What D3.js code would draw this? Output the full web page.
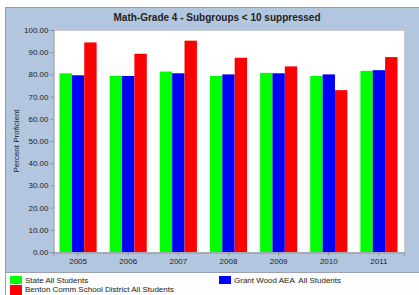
<!DOCTYPE html>
<html><head><meta charset="utf-8">
<script src="https://cdn.jsdelivr.net/npm/d3@7"></script>
<style>body{margin:0;background:#fff}svg{display:block}text{font-family:Arial,"Liberation Sans",sans-serif;white-space:pre}</style>
</head><body>
<script>
const years = ["2005","2006","2007","2008","2009","2010","2011"];
const seriesNames = ["State All Students","Grant Wood AEA  All Students","Benton Comm School District All Students"];
const seriesColors = ["#00FF00","#0000FF","#FF0000"];
const stateVals = [80.5, 79.3, 81.3, 79.3, 80.7, 79.3, 81.6];
const aeaVals = [79.6, 79.3, 80.5, 80.0, 80.5, 80.0, 81.9];
const bentonVals = [94.4, 89.3, 95.2, 87.5, 83.6, 72.9, 87.8];
const yTicks = [0,10,20,30,40,50,60,70,80,90,100];
const title = "Math-Grade 4 - Subgroups < 10 suppressed";

const W = 419, H = 295;
const svg = d3.select("body").append("svg").attr("width", W).attr("height", H);
svg.append("rect").attr("x",5.5).attr("y",7.5).attr("width",W).attr("height",265)
  .attr("fill","#B3C6DF").attr("stroke","#8c9bb0");
svg.append("rect").attr("x",5.5).attr("y",272.5).attr("width",W).attr("height",30)
  .attr("fill","#fdfdfd").attr("stroke","#9aa3ad");

const m = {l:53, t:30, r:404, b:252};
const x = d3.scaleBand().domain(years).range([m.l, m.r]).paddingInner(0.26).paddingOuter(0.13);
const xs = d3.scaleBand().domain([0,1,2]).range([0, x.bandwidth()]);
const y = d3.scaleLinear().domain([0,100]).range([m.b, m.t]);

svg.append("rect").attr("x",m.l+0.5).attr("y",m.t+0.5).attr("width",m.r-m.l).attr("height",m.b-m.t)
  .attr("fill","#fff").attr("stroke","#c8ccd2");

const data = [stateVals, aeaVals, bentonVals];
years.forEach((yr,i)=>{
  const g = svg.append("g").attr("transform",`translate(${x(yr)},0)`);
  data.forEach((s,j)=>{
    g.append("rect").attr("x",xs(j)).attr("width",xs.bandwidth())
      .attr("y",y(s[i])).attr("height",y(0)-y(s[i])).attr("fill",seriesColors[j]);
  });
});

const yAxis = d3.axisLeft(y).tickValues(yTicks).tickFormat(d3.format(".2f")).tickSize(3).tickPadding(2);
const ya = svg.append("g").attr("transform",`translate(${m.l+0.5},0)`).call(yAxis);
const xAxis = d3.axisBottom(x).tickSize(3).tickPadding(3);
const xa = svg.append("g").attr("transform",`translate(0,${m.b+0.5})`).call(xAxis);
[ya,xa].forEach(a=>{
  a.selectAll("path").attr("stroke","#8a8f96");
  a.selectAll("line").attr("stroke","#8a8f96");
  a.selectAll("text").attr("font-size",8).attr("fill","#222").attr("font-family","Arial,'Liberation Sans',sans-serif");
});

svg.append("text").attr("x",217).attr("y",21).attr("text-anchor","middle")
  .attr("font-size",10).attr("font-weight","bold").attr("fill","#222").text(title);
svg.append("text").attr("transform","translate(19,141) rotate(-90)").attr("text-anchor","middle")
  .attr("font-size",8).attr("fill","#222").text("Percent Proficient");

const legendPos = [[10,276],[219,276],[10,285]];
seriesNames.forEach((n,j)=>{
  const [lx,ly] = legendPos[j];
  svg.append("rect").attr("x",lx).attr("y",ly).attr("width",12).attr("height",j===2?10:8).attr("fill",seriesColors[j]);
  svg.append("text").attr("x",lx+15).attr("y",ly+ (j===2?7:6.5)).attr("font-size",8).attr("fill","#222").text(n);
});
</script>
</body></html>
